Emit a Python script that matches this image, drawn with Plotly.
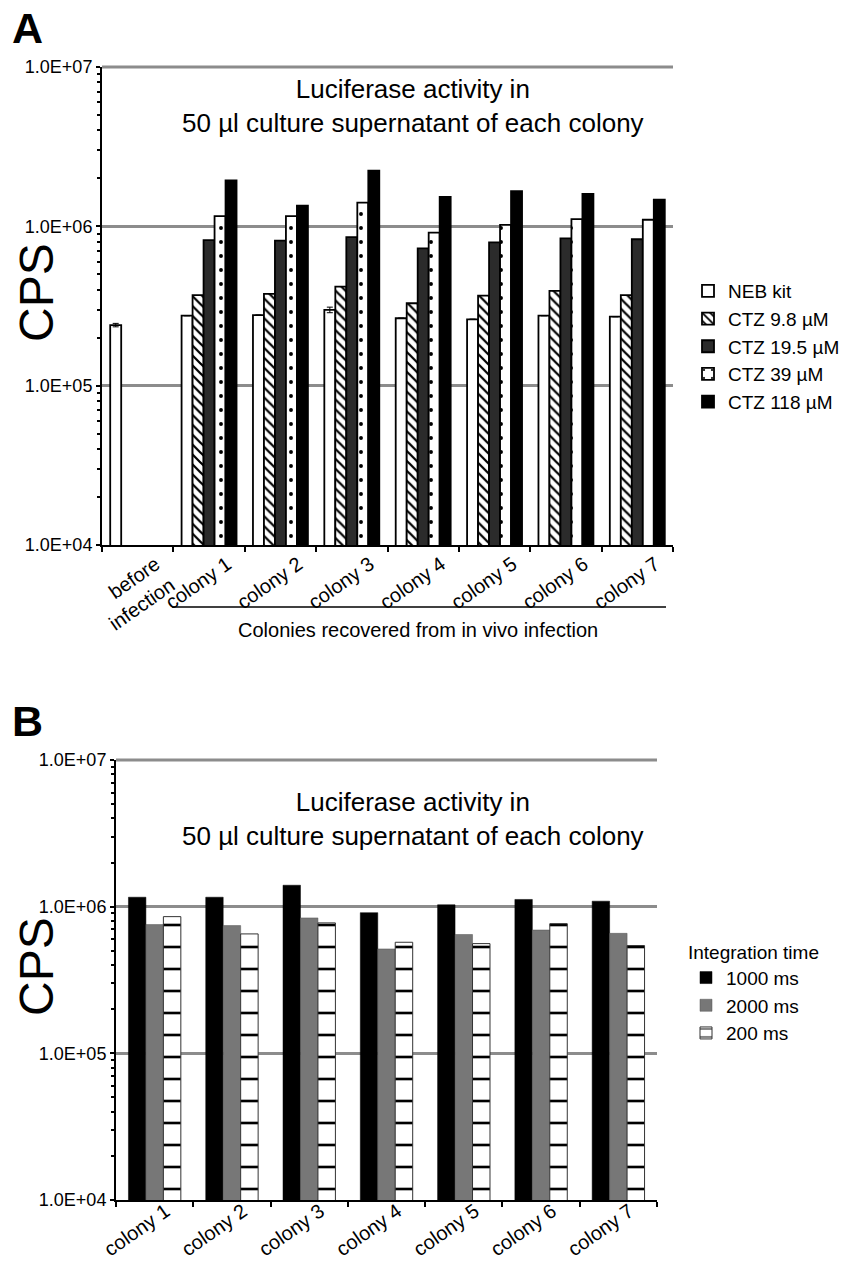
import plotly.graph_objects as go

# ---------------- data ----------------
categories_a = ["before<br>infection", "colony 1", "colony 2", "colony 3",
                "colony 4", "colony 5", "colony 6", "colony 7"]
neb_kit = [2.4e5, 2.75e5, 2.77e5, 2.99e5, 2.65e5, 2.61e5, 2.75e5, 2.71e5]
neb_kit_err = [6e3, 0, 0, 1.2e4, 0, 0, 0, 0]
ctz_9_8 = [None, 3.7e5, 3.77e5, 4.18e5, 3.29e5, 3.67e5, 3.94e5, 3.7e5]
ctz_19_5 = [None, 8.2e5, 8.13e5, 8.55e5, 7.28e5, 7.94e5, 8.41e5, 8.3e5]
ctz_39 = [None, 1.16e6, 1.16e6, 1.41e6, 9.14e5, 1.02e6, 1.11e6, 1.10e6]
ctz_118 = [None, 1.94e6, 1.35e6, 2.24e6, 1.53e6, 1.66e6, 1.60e6, 1.47e6]

categories_b = ["colony 1", "colony 2", "colony 3", "colony 4",
                "colony 5", "colony 6", "colony 7"]
ms_1000 = [1.16e6, 1.16e6, 1.40e6, 9.1e5, 1.03e6, 1.12e6, 1.09e6]
ms_2000 = [7.55e5, 7.43e5, 8.38e5, 5.15e5, 6.46e5, 6.93e5, 6.58e5]
ms_200 = [8.55e5, 6.52e5, 7.75e5, 5.72e5, 5.6e5, 7.66e5, 5.43e5]

y_tickvals = [1e4, 1e5, 1e6, 1e7]
y_ticktext = ["1.0E+04", "1.0E+05", "1.0E+06", "1.0E+07"]

# ---------------- layout helpers ----------------
W, H = 852, 1261
FONT = "Liberation Sans, Arial, sans-serif"


def px_x(x):
    return x / W


def px_y(y):
    return 1 - y / H


minor_vals = [m * 10 ** e for e in (4, 5, 6) for m in range(2, 10)]

fig = go.Figure()

# ---------------- panel A ----------------
line_a = dict(color="black", width=1.8)
fig.add_trace(go.Bar(x=categories_a, y=neb_kit, name="NEB kit",
                     marker=dict(color="white", line=line_a),
                     error_y=dict(type="data", array=neb_kit_err, color="black",
                                  thickness=1, width=3),
                     xaxis="x", yaxis="y", legend="legend"))
fig.add_trace(go.Bar(x=categories_a, y=ctz_9_8, name="CTZ 9.8 µM",
                     marker=dict(color="white", line=line_a,
                                 pattern=dict(shape="\\", fgcolor="black",
                                              fgopacity=1, bgcolor="white",
                                              size=7, solidity=0.32)),
                     xaxis="x", yaxis="y", legend="legend"))
fig.add_trace(go.Bar(x=categories_a, y=ctz_19_5, name="CTZ 19.5 µM",
                     marker=dict(color="#2b2b2b", line=line_a),
                     xaxis="x", yaxis="y", legend="legend"))
fig.add_trace(go.Bar(x=categories_a, y=ctz_39, name="CTZ 39 µM",
                     marker=dict(color="white", line=line_a,
                                 pattern=dict(shape=".", fgcolor="black",
                                              fgopacity=1, bgcolor="white",
                                              size=14, solidity=0.06)),
                     xaxis="x", yaxis="y", legend="legend"))
fig.add_trace(go.Bar(x=categories_a, y=ctz_118, name="CTZ 118 µM",
                     marker=dict(color="black", line=line_a),
                     xaxis="x", yaxis="y", legend="legend"))

# ---------------- panel B ----------------
bw_b = 0.226
fig.add_trace(go.Bar(x=categories_b, y=ms_1000, name="1000 ms",
                     width=bw_b, offset=-1.5 * bw_b,
                     marker=dict(color="black", line=dict(color="black", width=0.5)),
                     xaxis="x2", yaxis="y2", legend="legend2"))
fig.add_trace(go.Bar(x=categories_b, y=ms_2000, name="2000 ms",
                     width=bw_b, offset=-0.5 * bw_b,
                     marker=dict(color="#777777", line=dict(color="#555555", width=0.5)),
                     xaxis="x2", yaxis="y2", legend="legend2"))
fig.add_trace(go.Bar(x=categories_b, y=ms_200, name="200 ms",
                     width=bw_b, offset=0.5 * bw_b,
                     marker=dict(color="white", line=dict(color="#333333", width=1),
                                 pattern=dict(shape="-", fgcolor="black",
                                              fgopacity=1, bgcolor="white",
                                              size=22, solidity=0.12)),
                     xaxis="x2", yaxis="y2", legend="legend2"))

common_y = dict(type="log", range=[4, 7], tickmode="array",
                tickvals=y_tickvals, ticktext=y_ticktext,
                showline=True, linecolor="black", linewidth=2,
                ticks="outside", ticklen=4, tickwidth=1.5, tickcolor="black",
                showgrid=True, gridcolor="#8c8c8c", gridwidth=3,
                zeroline=False, automargin=False,
                minor=dict(tickmode="array", tickvals=minor_vals,
                           ticks="outside", ticklen=3, tickwidth=1.5,
                           tickcolor="black", showgrid=False),
                tickfont=dict(family=FONT, size=18, color="black"))

common_x = dict(type="category", showline=True, linecolor="black", linewidth=2,
                ticks="outside", tickson="boundaries", ticklen=5, tickwidth=1.5,
                tickcolor="black", showgrid=False, zeroline=False,
                tickangle=-35, automargin=False,
                tickfont=dict(family=FONT, size=20, color="black"))

fig.update_layout(
    width=W, height=H,
    margin=dict(l=0, r=0, t=0, b=0, autoexpand=False),
    paper_bgcolor="white", plot_bgcolor="white",
    barmode="group",
    bargap=0.23, bargroupgap=0,
    font=dict(family=FONT, color="black"),
    xaxis=dict(common_x, domain=[px_x(102), px_x(673)], anchor="y",
               ticklabelshift=18, ticklabelstandoff=-2),
    yaxis=dict(common_y, domain=[px_y(545), px_y(67)], anchor="x"),
    xaxis2=dict(common_x, domain=[px_x(116), px_x(657)], anchor="y2",
                ticklabelshift=11, ticklabelstandoff=-10),
    yaxis2=dict(common_y, domain=[px_y(1200), px_y(760)], anchor="x2"),
    legend=dict(x=px_x(688), y=px_y(272), xanchor="left", yanchor="top",
                font=dict(family=FONT, size=19, color="black"),
                bgcolor="rgba(0,0,0,0)", traceorder="normal"),
    legend2=dict(x=px_x(686), y=px_y(934), xanchor="left", yanchor="top",
                 title=dict(text="Integration time",
                            font=dict(family=FONT, size=19, color="black")),
                 font=dict(family=FONT, size=19, color="black"),
                 bgcolor="rgba(0,0,0,0)", traceorder="normal"),
    showlegend=True,
)

title_text = "Luciferase activity in<br>50 µl culture supernatant of each colony"
annotations = [
    dict(text="<b>A</b>", x=px_x(27), y=px_y(28), font=dict(size=43)),
    dict(text="<b>B</b>", x=px_x(27), y=px_y(721), font=dict(size=43)),
    dict(text=title_text, x=px_x(413), y=px_y(106), font=dict(size=26)),
    dict(text=title_text, x=px_x(413), y=px_y(819), font=dict(size=26)),
    dict(text="CPS", x=px_x(36), y=px_y(293), font=dict(size=48), textangle=-90),
    dict(text="CPS", x=px_x(36), y=px_y(967), font=dict(size=48), textangle=-90),
    dict(text="Colonies recovered from in vivo infection", x=px_x(418),
         y=px_y(630), font=dict(size=20)),
]
for a in annotations:
    a.update(xref="paper", yref="paper", showarrow=False,
             xanchor="center", yanchor="middle")
    a["font"].update(family=FONT, color="black")
fig.update_layout(annotations=annotations)

# gridline at the top of each panel (1.0E+07)
for xr, yr in (("x domain", "y domain"), ("x2 domain", "y2 domain")):
    fig.add_shape(type="line", xref=xr, yref=yr, x0=0, x1=1, y0=1, y1=1,
                  line=dict(color="#8c8c8c", width=3), layer="below")

# horizontal line under the colony labels in panel A
fig.add_shape(type="line", xref="paper", yref="paper",
              x0=px_x(172), x1=px_x(666), y0=px_y(607), y1=px_y(607),
              line=dict(color="black", width=1.5))

fig.write_html("out.html",
               config={"displayModeBar": False},
               post_script="document.body.style.margin='0';"
                           "document.documentElement.style.overflow='hidden';")
